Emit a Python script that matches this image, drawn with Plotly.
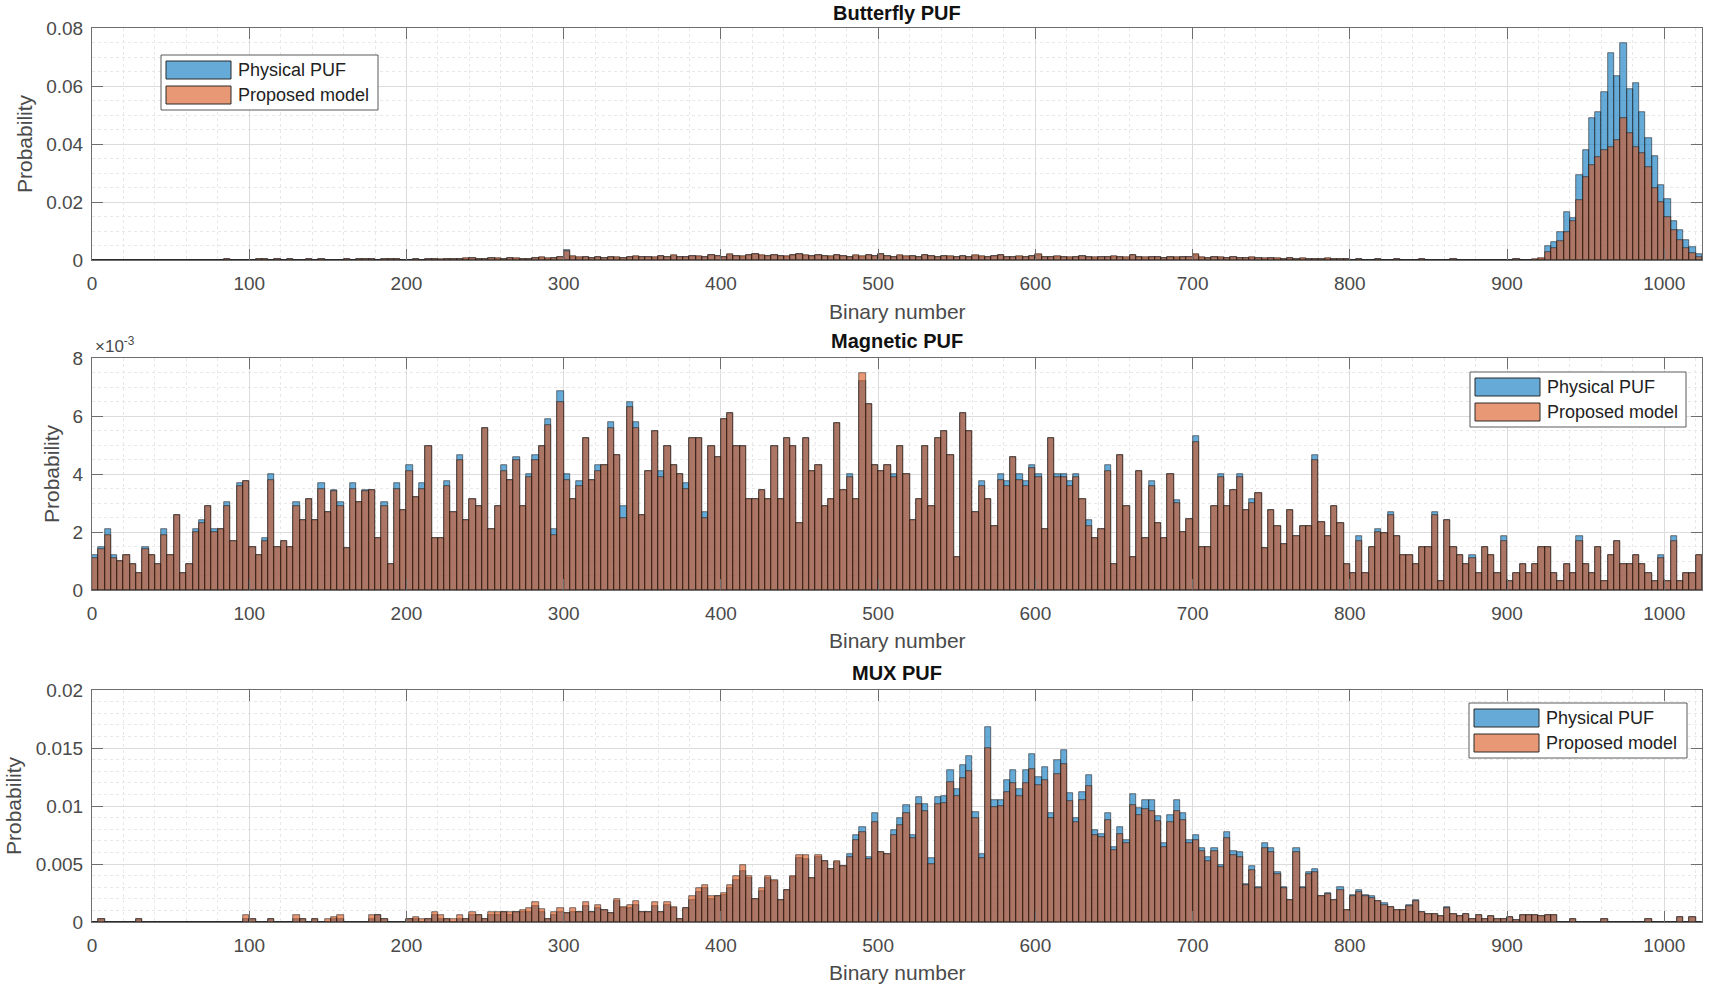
import plotly.graph_objects as go

# ---------------- data (probability per bin, bins of width 4 over 0..1024) ----------------
BIN_WIDTH = 4
BIN_LEFT = list(range(0, 1024, BIN_WIDTH))

BF_PHYS = [
    0, 0, 0, 0, 0, 0, 0, 0, 0, 0,
    0, 0, 0, 0, 0, 0, 0, 0, 0, 0,
    0, 0.0003, 0, 0, 0, 0, 0.0003, 0.0003, 0, 0.0003,
    0, 0.0002, 0, 0, 0.0003, 0, 0.0002, 0, 0, 0,
    0.0002, 0, 0.0003, 0.0004, 0.0003, 0, 0.0003, 0.0004, 0.0002, 0,
    0, 0.0002, 0, 0.0003, 0.0003, 0, 0.0002, 0.0003, 0.0002, 0.0005,
    0.0006, 0.0004, 0.0003, 0.0007, 0.0005, 0.0004, 0.0006, 0.0005, 0.0004, 0.0003,
    0.0006, 0.0008, 0.0005, 0.0006, 0.0009, 0.0036, 0.0012, 0.0008, 0.0010, 0.0006,
    0.0009, 0.0007, 0.0011, 0.0008, 0.0006, 0.0010, 0.0012, 0.0009, 0.0011, 0.0008,
    0.0013, 0.0010, 0.0015, 0.0011, 0.0009, 0.0014, 0.0012, 0.0010, 0.0016, 0.0013,
    0.0011, 0.0018, 0.0014, 0.0012, 0.0016, 0.0019, 0.0015, 0.0013, 0.0017, 0.0014,
    0.0012, 0.0016, 0.0021, 0.0015, 0.0013, 0.0017, 0.0014, 0.0012, 0.0016, 0.0013,
    0.0011, 0.0015, 0.0012, 0.0017, 0.0014, 0.0020, 0.0013, 0.0011, 0.0015, 0.0012,
    0.0014, 0.0011, 0.0016, 0.0013, 0.0010, 0.0014, 0.0012, 0.0009, 0.0013, 0.0011,
    0.0015, 0.0012, 0.0010, 0.0013, 0.0016, 0.0011, 0.0009, 0.0012, 0.0010, 0.0013,
    0.0018, 0.0011, 0.0009, 0.0012, 0.0010, 0.0008, 0.0011, 0.0014, 0.0010, 0.0008,
    0.0011, 0.0009, 0.0012, 0.0010, 0.0008, 0.0016, 0.0010, 0.0008, 0.0011, 0.0009,
    0.0007, 0.0010, 0.0008, 0.0011, 0.0009, 0.0018, 0.0008, 0.0007, 0.0010, 0.0008,
    0.0006, 0.0009, 0.0007, 0.0006, 0.0008, 0.0006, 0.0005, 0.0007, 0.0005, 0.0004,
    0.0006, 0.0004, 0.0005, 0.0003, 0.0004, 0.0003, 0.0005, 0.0003, 0.0002, 0.0003,
    0, 0.0002, 0, 0, 0.0003, 0, 0, 0.0002, 0, 0,
    0, 0.0003, 0, 0, 0, 0, 0.0002, 0, 0, 0,
    0, 0, 0, 0, 0, 0, 0.0002, 0, 0, 0,
    0.0005, 0.0049, 0.0063, 0.0098, 0.0167, 0.0144, 0.0293, 0.038, 0.049, 0.051,
    0.058, 0.0715, 0.0634, 0.075, 0.059, 0.061, 0.051, 0.042, 0.036, 0.026,
    0.021, 0.0135, 0.0105, 0.007, 0.0045, 0.002,
]

BF_MODEL = [
    0, 0, 0, 0, 0, 0, 0, 0, 0, 0,
    0, 0, 0, 0, 0, 0, 0, 0, 0, 0,
    0, 0.0002, 0, 0, 0, 0, 0.0003, 0.0002, 0, 0.0003,
    0, 0.0003, 0, 0, 0.0002, 0, 0.0003, 0, 0, 0,
    0.0003, 0, 0.0002, 0.0004, 0.0004, 0, 0.0003, 0.0005, 0.0003, 0,
    0, 0.0003, 0, 0.0004, 0.0003, 0.0002, 0.0003, 0.0004, 0.0003, 0.0006,
    0.0007, 0.0005, 0.0004, 0.0008, 0.0006, 0.0005, 0.0007, 0.0006, 0.0005, 0.0004,
    0.0007, 0.0009, 0.0006, 0.0007, 0.0010, 0.0030, 0.0013, 0.0009, 0.0011, 0.0007,
    0.0010, 0.0008, 0.0012, 0.0009, 0.0007, 0.0011, 0.0013, 0.0010, 0.0012, 0.0009,
    0.0014, 0.0011, 0.0016, 0.0012, 0.0010, 0.0015, 0.0013, 0.0011, 0.0017, 0.0014,
    0.0012, 0.0019, 0.0015, 0.0013, 0.0017, 0.0020, 0.0016, 0.0014, 0.0018, 0.0015,
    0.0013, 0.0017, 0.0022, 0.0016, 0.0014, 0.0018, 0.0015, 0.0013, 0.0017, 0.0014,
    0.0012, 0.0016, 0.0013, 0.0018, 0.0015, 0.0021, 0.0014, 0.0012, 0.0016, 0.0013,
    0.0015, 0.0012, 0.0017, 0.0014, 0.0011, 0.0015, 0.0013, 0.0010, 0.0014, 0.0012,
    0.0016, 0.0013, 0.0011, 0.0014, 0.0017, 0.0012, 0.0010, 0.0013, 0.0011, 0.0014,
    0.0019, 0.0012, 0.0010, 0.0013, 0.0011, 0.0009, 0.0012, 0.0015, 0.0011, 0.0009,
    0.0012, 0.0010, 0.0013, 0.0011, 0.0009, 0.0017, 0.0011, 0.0009, 0.0012, 0.0010,
    0.0008, 0.0011, 0.0009, 0.0012, 0.0010, 0.0019, 0.0009, 0.0008, 0.0011, 0.0009,
    0.0007, 0.0010, 0.0008, 0.0007, 0.0009, 0.0007, 0.0006, 0.0008, 0.0006, 0.0005,
    0.0007, 0.0005, 0.0006, 0.0004, 0.0005, 0.0004, 0.0006, 0.0004, 0.0003, 0.0004,
    0, 0.0003, 0, 0, 0.0002, 0, 0, 0.0003, 0, 0,
    0, 0.0002, 0, 0, 0, 0, 0.0003, 0, 0, 0,
    0, 0, 0, 0, 0, 0, 0.0003, 0, 0, 0.0002,
    0.0008, 0.0028, 0.004, 0.0065, 0.0095, 0.0135, 0.0207, 0.0287, 0.0328, 0.0356,
    0.038, 0.039, 0.0414, 0.049, 0.0437, 0.039, 0.037, 0.032, 0.025, 0.02,
    0.015, 0.0103, 0.007, 0.004, 0.0023, 0.001,
]

# Magnetic PUF, values in units of 1e-3
MAG_PHYS_E3 = [
    1.2, 1.5, 2.1, 1.2, 1.0, 1.2, 0.9, 0.6, 1.5, 1.2,
    0.9, 2.1, 1.2, 2.6, 0.6, 0.9, 2.1, 2.4, 2.9, 2.1,
    2.1, 3.05, 1.7, 3.7, 3.75, 1.5, 1.2, 1.8, 4.0, 1.5,
    1.7, 1.5, 3.05, 2.4, 3.15, 2.4, 3.7, 2.7, 3.45, 3.05,
    1.45, 3.7, 3.05, 3.45, 3.45, 1.8, 3.05, 0.9, 3.7, 2.75,
    4.3, 3.2, 3.7, 4.95, 1.8, 1.8, 3.75, 2.7, 4.65, 2.4,
    3.15, 2.9, 5.6, 2.1, 2.9, 4.3, 3.8, 4.6, 2.9, 4.0,
    4.65, 4.95, 5.9, 2.1, 6.85, 4.0, 3.15, 3.75, 5.25, 3.8,
    4.3, 4.3, 5.8, 4.65, 2.9, 6.5, 5.8, 2.6, 4.1, 5.5,
    4.1, 4.95, 4.3, 4.0, 3.7, 5.25, 5.25, 2.7, 4.95, 4.6,
    5.9, 6.1, 4.95, 4.95, 3.15, 3.15, 3.45, 3.15, 4.95, 3.15,
    5.25, 4.95, 2.3, 5.25, 4.1, 4.3, 2.9, 3.15, 5.75, 3.45,
    4.0, 3.15, 7.2, 6.4, 4.3, 4.1, 4.3, 4.0, 4.95, 4.0,
    2.4, 3.15, 4.95, 2.9, 5.25, 5.5, 4.65, 1.15, 6.1, 5.5,
    2.7, 3.75, 3.15, 2.2, 4.0, 3.75, 4.6, 4.0, 3.75, 4.3,
    4.0, 2.1, 5.25, 4.0, 4.0, 3.75, 4.0, 3.15, 2.4, 1.8,
    2.1, 4.3, 0.9, 4.65, 2.9, 1.15, 4.1, 1.8, 3.75, 2.3,
    1.8, 4.0, 3.1, 2.0, 2.45, 5.3, 1.5, 1.5, 2.9, 4.0,
    2.9, 3.45, 4.0, 2.75, 3.15, 3.35, 1.45, 2.75, 2.2, 1.6,
    2.75, 1.85, 2.2, 2.2, 4.65, 2.35, 1.85, 2.9, 2.3, 0.9,
    0.6, 1.85, 0.6, 1.5, 2.1, 1.95, 2.7, 1.85, 1.2, 1.2,
    0.9, 1.5, 1.5, 2.7, 0.3, 2.4, 1.5, 1.2, 0.9, 1.2,
    0.6, 1.5, 1.2, 0.6, 1.85, 0.3, 0.6, 0.9, 0.6, 0.9,
    1.5, 1.5, 0.6, 0.3, 0.9, 0.6, 1.85, 0.9, 0.6, 1.5,
    0.3, 1.2, 1.7, 0.9, 0.9, 1.2, 0.9, 0.6, 0.3, 1.2,
    0.3, 1.85, 0.3, 0.6, 0.6, 1.2,
]

MAG_MODEL_E3 = [
    1.1, 1.4, 1.9, 1.1, 1.0, 1.2, 0.9, 0.6, 1.4, 1.2,
    0.9, 1.9, 1.2, 2.6, 0.6, 0.9, 2.0, 2.3, 2.9, 2.0,
    2.1, 2.9, 1.7, 3.6, 3.75, 1.5, 1.2, 1.7, 3.8, 1.5,
    1.7, 1.5, 2.9, 2.4, 3.15, 2.4, 3.5, 2.7, 3.4, 2.9,
    1.45, 3.5, 3.05, 3.4, 3.45, 1.8, 2.9, 0.9, 3.5, 2.75,
    4.1, 3.2, 3.5, 4.95, 1.8, 1.8, 3.6, 2.7, 4.5, 2.4,
    3.15, 2.9, 5.6, 2.1, 2.9, 4.1, 3.8, 4.5, 2.9, 3.9,
    4.5, 4.95, 5.7, 1.9, 6.5, 3.8, 3.15, 3.6, 5.25, 3.8,
    4.1, 4.3, 5.6, 4.65, 2.5, 6.3, 5.6, 2.6, 4.1, 5.5,
    3.9, 4.95, 4.3, 4.0, 3.5, 5.25, 5.25, 2.5, 4.95, 4.6,
    5.9, 6.1, 4.95, 4.95, 3.15, 3.15, 3.45, 3.15, 4.95, 3.15,
    5.25, 4.95, 2.3, 5.25, 4.1, 4.3, 2.9, 3.15, 5.75, 3.45,
    3.9, 3.15, 7.5, 6.4, 4.3, 4.1, 4.3, 3.9, 4.95, 4.0,
    2.4, 3.15, 4.95, 2.9, 5.25, 5.5, 4.65, 1.15, 6.1, 5.5,
    2.7, 3.6, 3.15, 2.2, 3.8, 3.6, 4.6, 3.8, 3.6, 4.2,
    3.9, 2.1, 5.25, 3.9, 3.9, 3.6, 3.9, 3.15, 2.2, 1.8,
    2.1, 4.1, 0.9, 4.65, 2.9, 1.15, 4.1, 1.8, 3.6, 2.3,
    1.8, 4.0, 3.0, 2.0, 2.45, 5.1, 1.5, 1.5, 2.9, 3.9,
    2.9, 3.45, 3.9, 2.75, 3.0, 3.35, 1.45, 2.75, 2.2, 1.6,
    2.75, 1.85, 2.2, 2.2, 4.5, 2.35, 1.85, 2.9, 2.3, 0.9,
    0.6, 1.7, 0.6, 1.5, 2.0, 1.95, 2.6, 1.85, 1.2, 1.2,
    0.9, 1.5, 1.5, 2.6, 0.3, 2.4, 1.5, 1.2, 0.9, 1.1,
    0.6, 1.5, 1.2, 0.6, 1.7, 0.3, 0.6, 0.9, 0.6, 0.9,
    1.5, 1.5, 0.6, 0.3, 0.9, 0.6, 1.7, 0.9, 0.6, 1.5,
    0.3, 1.2, 1.7, 0.9, 0.9, 1.2, 0.9, 0.6, 0.3, 1.1,
    0.3, 1.7, 0.3, 0.6, 0.6, 1.2,
]

# MUX PUF, values in units of 1e-3
MUX_PHYS_E3 = [
    0, 0.3, 0, 0, 0, 0, 0, 0.3, 0, 0,
    0, 0, 0, 0, 0, 0, 0, 0, 0, 0,
    0, 0, 0, 0, 0.3, 0.3, 0, 0, 0.3, 0,
    0, 0, 0.3, 0.3, 0, 0.3, 0, 0, 0.3, 0.3,
    0, 0, 0, 0, 0.3, 0.6, 0.3, 0, 0, 0,
    0.3, 0.3, 0, 0.3, 0.6, 0.3, 0.3, 0, 0.3, 0.3,
    0.6, 0.6, 0.3, 0.6, 0.6, 0.9, 0.6, 0.9, 0.9, 0.9,
    1.4, 0.9, 0.3, 0.6, 0.9, 0.8, 0.9, 0.9, 1.4, 0.9,
    1.2, 1.0, 0.8, 1.8, 1.2, 1.2, 1.5, 0.9, 0.9, 1.4,
    0.9, 1.5, 1.2, 0.3, 1.2, 1.9, 2.6, 2.9, 2.0, 2.2,
    2.3, 2.9, 3.6, 4.4, 3.8, 2.0, 2.7, 3.8, 3.5, 1.9,
    2.8, 3.9, 5.5, 5.4, 3.8, 5.6, 5.3, 4.6, 5.2, 4.8,
    5.9, 7.5, 8.2, 5.6, 9.4, 6.0, 5.9, 7.9, 9.0, 10.1,
    7.5, 10.8, 10.2, 5.5, 10.8, 10.9, 13.1, 11.5, 13.5, 14.3,
    9.5, 5.9, 16.8, 10.5, 10.5, 12.2, 13.1, 11.5, 13.1, 14.5,
    12.5, 13.4, 9.4, 14.0, 14.8, 11.1, 9.0, 11.2, 12.7, 7.9,
    7.6, 9.4, 6.5, 8.2, 7.1, 11.0, 9.8, 10.5, 10.5, 9.1,
    6.8, 9.2, 10.5, 9.4, 7.1, 7.5, 6.4, 5.6, 6.4, 4.9,
    7.8, 6.1, 6.0, 3.3, 4.8, 3.0, 6.8, 6.4, 4.3, 3.0,
    1.9, 6.4, 3.0, 4.3, 4.6, 2.2, 2.5, 1.9, 3.0, 1.0,
    2.3, 2.8, 2.3, 2.2, 1.8, 1.6, 1.3, 1.0, 1.0, 1.5,
    1.9, 0.9, 0.7, 0.7, 0.5, 1.3, 0.7, 0.5, 0.7, 0.3,
    0.6, 0.3, 0.5, 0.3, 0.3, 0.4, 0.2, 0.6, 0.6, 0.6,
    0.5, 0.6, 0.6, 0, 0, 0.3, 0, 0, 0, 0,
    0.3, 0, 0, 0, 0, 0, 0, 0.3, 0, 0,
    0, 0, 0.4, 0, 0.4, 0,
]

MUX_MODEL_E3 = [
    0, 0.3, 0, 0, 0, 0, 0, 0.3, 0, 0,
    0, 0, 0, 0, 0, 0, 0, 0, 0, 0,
    0, 0, 0, 0, 0.6, 0.3, 0, 0, 0.3, 0,
    0, 0, 0.6, 0.3, 0, 0.3, 0, 0.3, 0.4, 0.6,
    0, 0, 0, 0, 0.6, 0.6, 0.3, 0, 0, 0,
    0.3, 0.4, 0.3, 0.3, 0.9, 0.6, 0.3, 0.3, 0.6, 0.3,
    0.9, 0.6, 0.3, 0.9, 0.9, 0.9, 0.9, 0.9, 1.0, 1.2,
    1.7, 1.1, 0.3, 0.9, 1.2, 0.8, 1.2, 0.9, 1.7, 0.9,
    1.5, 1.0, 0.8, 2.0, 1.3, 1.5, 1.8, 0.9, 0.9, 1.7,
    0.9, 1.7, 1.3, 0.3, 1.2, 2.2, 2.9, 3.2, 2.2, 2.2,
    2.5, 3.2, 4.0, 4.9, 4.0, 2.0, 2.9, 4.0, 3.6, 1.9,
    2.8, 4.0, 5.8, 5.8, 3.8, 5.8, 5.3, 4.6, 5.3, 4.8,
    5.6, 7.1, 7.8, 5.4, 8.6, 6.0, 5.9, 7.5, 8.4, 9.4,
    7.2, 10.2, 9.6, 5.0, 10.2, 10.3, 12.1, 10.9, 12.4, 13.0,
    9.0, 5.5, 15.0, 9.9, 10.0, 11.2, 12.0, 10.9, 12.0, 13.2,
    11.8, 12.2, 9.0, 12.8, 13.6, 10.4, 8.6, 10.5, 11.7, 7.5,
    7.3, 8.8, 6.2, 7.6, 6.8, 10.1, 9.2, 9.7, 9.6, 8.7,
    6.5, 8.6, 9.6, 8.8, 6.8, 7.1, 6.1, 5.3, 6.1, 4.7,
    7.2, 5.8, 5.6, 3.2, 4.5, 2.9, 6.4, 6.0, 4.1, 2.9,
    1.9, 6.0, 2.9, 4.1, 4.3, 2.2, 2.4, 1.9, 2.8, 1.0,
    2.2, 2.6, 2.2, 2.1, 1.8, 1.5, 1.3, 1.0, 1.0, 1.4,
    1.8, 0.9, 0.7, 0.7, 0.5, 1.2, 0.7, 0.5, 0.7, 0.3,
    0.6, 0.3, 0.5, 0.3, 0.3, 0.4, 0.2, 0.6, 0.6, 0.6,
    0.5, 0.6, 0.6, 0, 0, 0.3, 0, 0, 0, 0,
    0.3, 0, 0, 0, 0, 0, 0, 0.3, 0, 0,
    0, 0, 0.4, 0, 0.4, 0,
]

TITLES = ["Butterfly PUF", "Magnetic PUF", "MUX PUF"]
SERIES_NAMES = ["Physical PUF", "Proposed model"]
X_TICKS = [0, 100, 200, 300, 400, 500, 600, 700, 800, 900, 1000]
Y_TICKS = [
    [0, 0.02, 0.04, 0.06, 0.08],
    [0, 0.002, 0.004, 0.006, 0.008],
    [0, 0.005, 0.01, 0.015, 0.02],
]
Y_TICK_TEXT = [
    ["0", "0.02", "0.04", "0.06", "0.08"],
    ["0", "2", "4", "6", "8"],
    ["0", "0.005", "0.01", "0.015", "0.02"],
]

for arr in (BF_PHYS, BF_MODEL, MAG_PHYS_E3, MAG_MODEL_E3, MUX_PHYS_E3, MUX_MODEL_E3):
    assert len(arr) == len(BIN_LEFT), len(arr)

PANELS = [
    (BF_PHYS, BF_MODEL),
    ([v * 1e-3 for v in MAG_PHYS_E3], [v * 1e-3 for v in MAG_MODEL_E3]),
    ([v * 1e-3 for v in MUX_PHYS_E3], [v * 1e-3 for v in MUX_MODEL_E3]),
]

# ---------------- styling ----------------
W, H = 1710, 987
ML, MR, MT, MB = 92, 8, 28, 65
PW, PH = W - ML - MR, H - MT - MB
FONT = "Liberation Sans, Arial, Helvetica, sans-serif"
BLUE = "rgba(0,114,189,0.6)"
ORANGE = "rgba(217,83,25,0.6)"
EDGE = "rgba(20,20,20,0.9)"
AXIS_COL = "#6e6e6e"
TXT_COL = "#4a4a4a"
PANEL_TOP = [28, 358, 690]
PANEL_BOT = [260, 590, 922]
Y_MINOR = [0.005, 0.0005, 0.001]


def px(x):
    return (x - ML) / PW


def py(y):
    return (H - MB - y) / PH


centers = [b + BIN_WIDTH / 2 for b in BIN_LEFT]

fig = go.Figure()
for i, (phys, model) in enumerate(PANELS):
    sfx = "" if i == 0 else str(i + 1)
    for vals, col, name in ((phys, BLUE, SERIES_NAMES[0]), (model, ORANGE, SERIES_NAMES[1])):
        fig.add_trace(go.Bar(
            x=centers, y=vals, width=BIN_WIDTH, name=name,
            xaxis="x" + sfx, yaxis="y" + sfx, showlegend=False,
            marker=dict(color=col, line=dict(color=EDGE, width=0.6)),
        ))

layout = dict(
    width=W, height=H, margin=dict(l=ML, r=MR, t=MT, b=MB),
    paper_bgcolor="white", plot_bgcolor="white",
    barmode="overlay", bargap=0, showlegend=False,
    font=dict(family=FONT, color=TXT_COL),
)
for i in range(3):
    sfx = "" if i == 0 else str(i + 1)
    layout["xaxis" + sfx] = dict(
        domain=[0, 1], anchor="y" + sfx, range=[0, 1024],
        tickvals=X_TICKS, ticks="inside", ticklen=11, tickcolor=AXIS_COL,
        showline=True, linecolor=AXIS_COL, linewidth=1, mirror="ticks",
        showgrid=True, gridcolor="#dcdcdc", gridwidth=1, zeroline=False,
        tickfont=dict(family=FONT, size=19, color=TXT_COL), ticklabelstandoff=6,
        minor=dict(dtick=20, tick0=0, showgrid=True, gridcolor="#e8e8e8", griddash="dot", ticks=""),
    )
    layout["yaxis" + sfx] = dict(
        domain=[py(PANEL_BOT[i]), py(PANEL_TOP[i])], anchor="x" + sfx,
        range=[Y_TICKS[i][0], Y_TICKS[i][-1]],
        tickvals=Y_TICKS[i], ticktext=Y_TICK_TEXT[i],
        ticks="inside", ticklen=11, tickcolor=AXIS_COL,
        showline=True, linecolor=AXIS_COL, linewidth=1, mirror="ticks",
        showgrid=True, gridcolor="#dcdcdc", gridwidth=1, zeroline=False,
        tickfont=dict(family=FONT, size=19, color=TXT_COL), ticklabelstandoff=4,
        minor=dict(dtick=Y_MINOR[i], tick0=0, showgrid=True, gridcolor="#e8e8e8", griddash="dot", ticks=""),
    )
fig.update_layout(**layout)

ann = []
shapes = []
TITLE_Y = [13, 341, 673]
XLABEL_Y = [311, 641, 972]
YLABEL_X = [25, 51, 13]
for i in range(3):
    ann.append(dict(text="<b>" + TITLES[i] + "</b>", x=px(897), y=py(TITLE_Y[i]), xref="paper", yref="paper",
                    showarrow=False, xanchor="center", yanchor="middle",
                    font=dict(family=FONT, size=20, color="#111111")))
    ann.append(dict(text="Binary number", x=px(897), y=py(XLABEL_Y[i]), xref="paper", yref="paper",
                    showarrow=False, xanchor="center", yanchor="middle",
                    font=dict(family=FONT, size=21, color=TXT_COL)))
    ann.append(dict(text="Probability", x=px(YLABEL_X[i]), y=py((PANEL_TOP[i] + PANEL_BOT[i]) / 2),
                    xref="paper", yref="paper", textangle=-90,
                    showarrow=False, xanchor="center", yanchor="middle",
                    font=dict(family=FONT, size=21, color=TXT_COL)))
ann.append(dict(text="\u00d710<sup>-3</sup>", x=px(93), y=py(345), xref="paper", yref="paper",
                showarrow=False, xanchor="left", yanchor="middle",
                font=dict(family=FONT, size=17, color=TXT_COL)))

# MATLAB-style legends (box, wide colour patches, labels)
LEGENDS = [(161, 378, 55, 110), (1470, 1686, 372, 427), (1469, 1687, 703, 758)]
for (x0, x1, y0, y1) in LEGENDS:
    shapes.append(dict(type="rect", xref="paper", yref="paper", x0=px(x0), x1=px(x1), y0=py(y1), y1=py(y0),
                       fillcolor="white", line=dict(color="#5a5a5a", width=1), layer="above"))
    rows = [(y0 + 6, y0 + 24, BLUE, SERIES_NAMES[0]), (y0 + 31, y0 + 49, ORANGE, SERIES_NAMES[1])]
    for (ry0, ry1, col, name) in rows:
        shapes.append(dict(type="rect", xref="paper", yref="paper", x0=px(x0 + 5), x1=px(x0 + 70),
                           y0=py(ry1), y1=py(ry0), fillcolor=col, line=dict(color="#2a2a2a", width=1),
                           layer="above"))
        ann.append(dict(text=name, x=px(x0 + 75), y=py((ry0 + ry1) / 2), xref="paper", yref="paper",
                        showarrow=False, xanchor="left", yanchor="middle",
                        font=dict(family=FONT, size=18, color="#222222")))

fig.update_layout(annotations=ann, shapes=shapes)
fig.write_html("out.html")
